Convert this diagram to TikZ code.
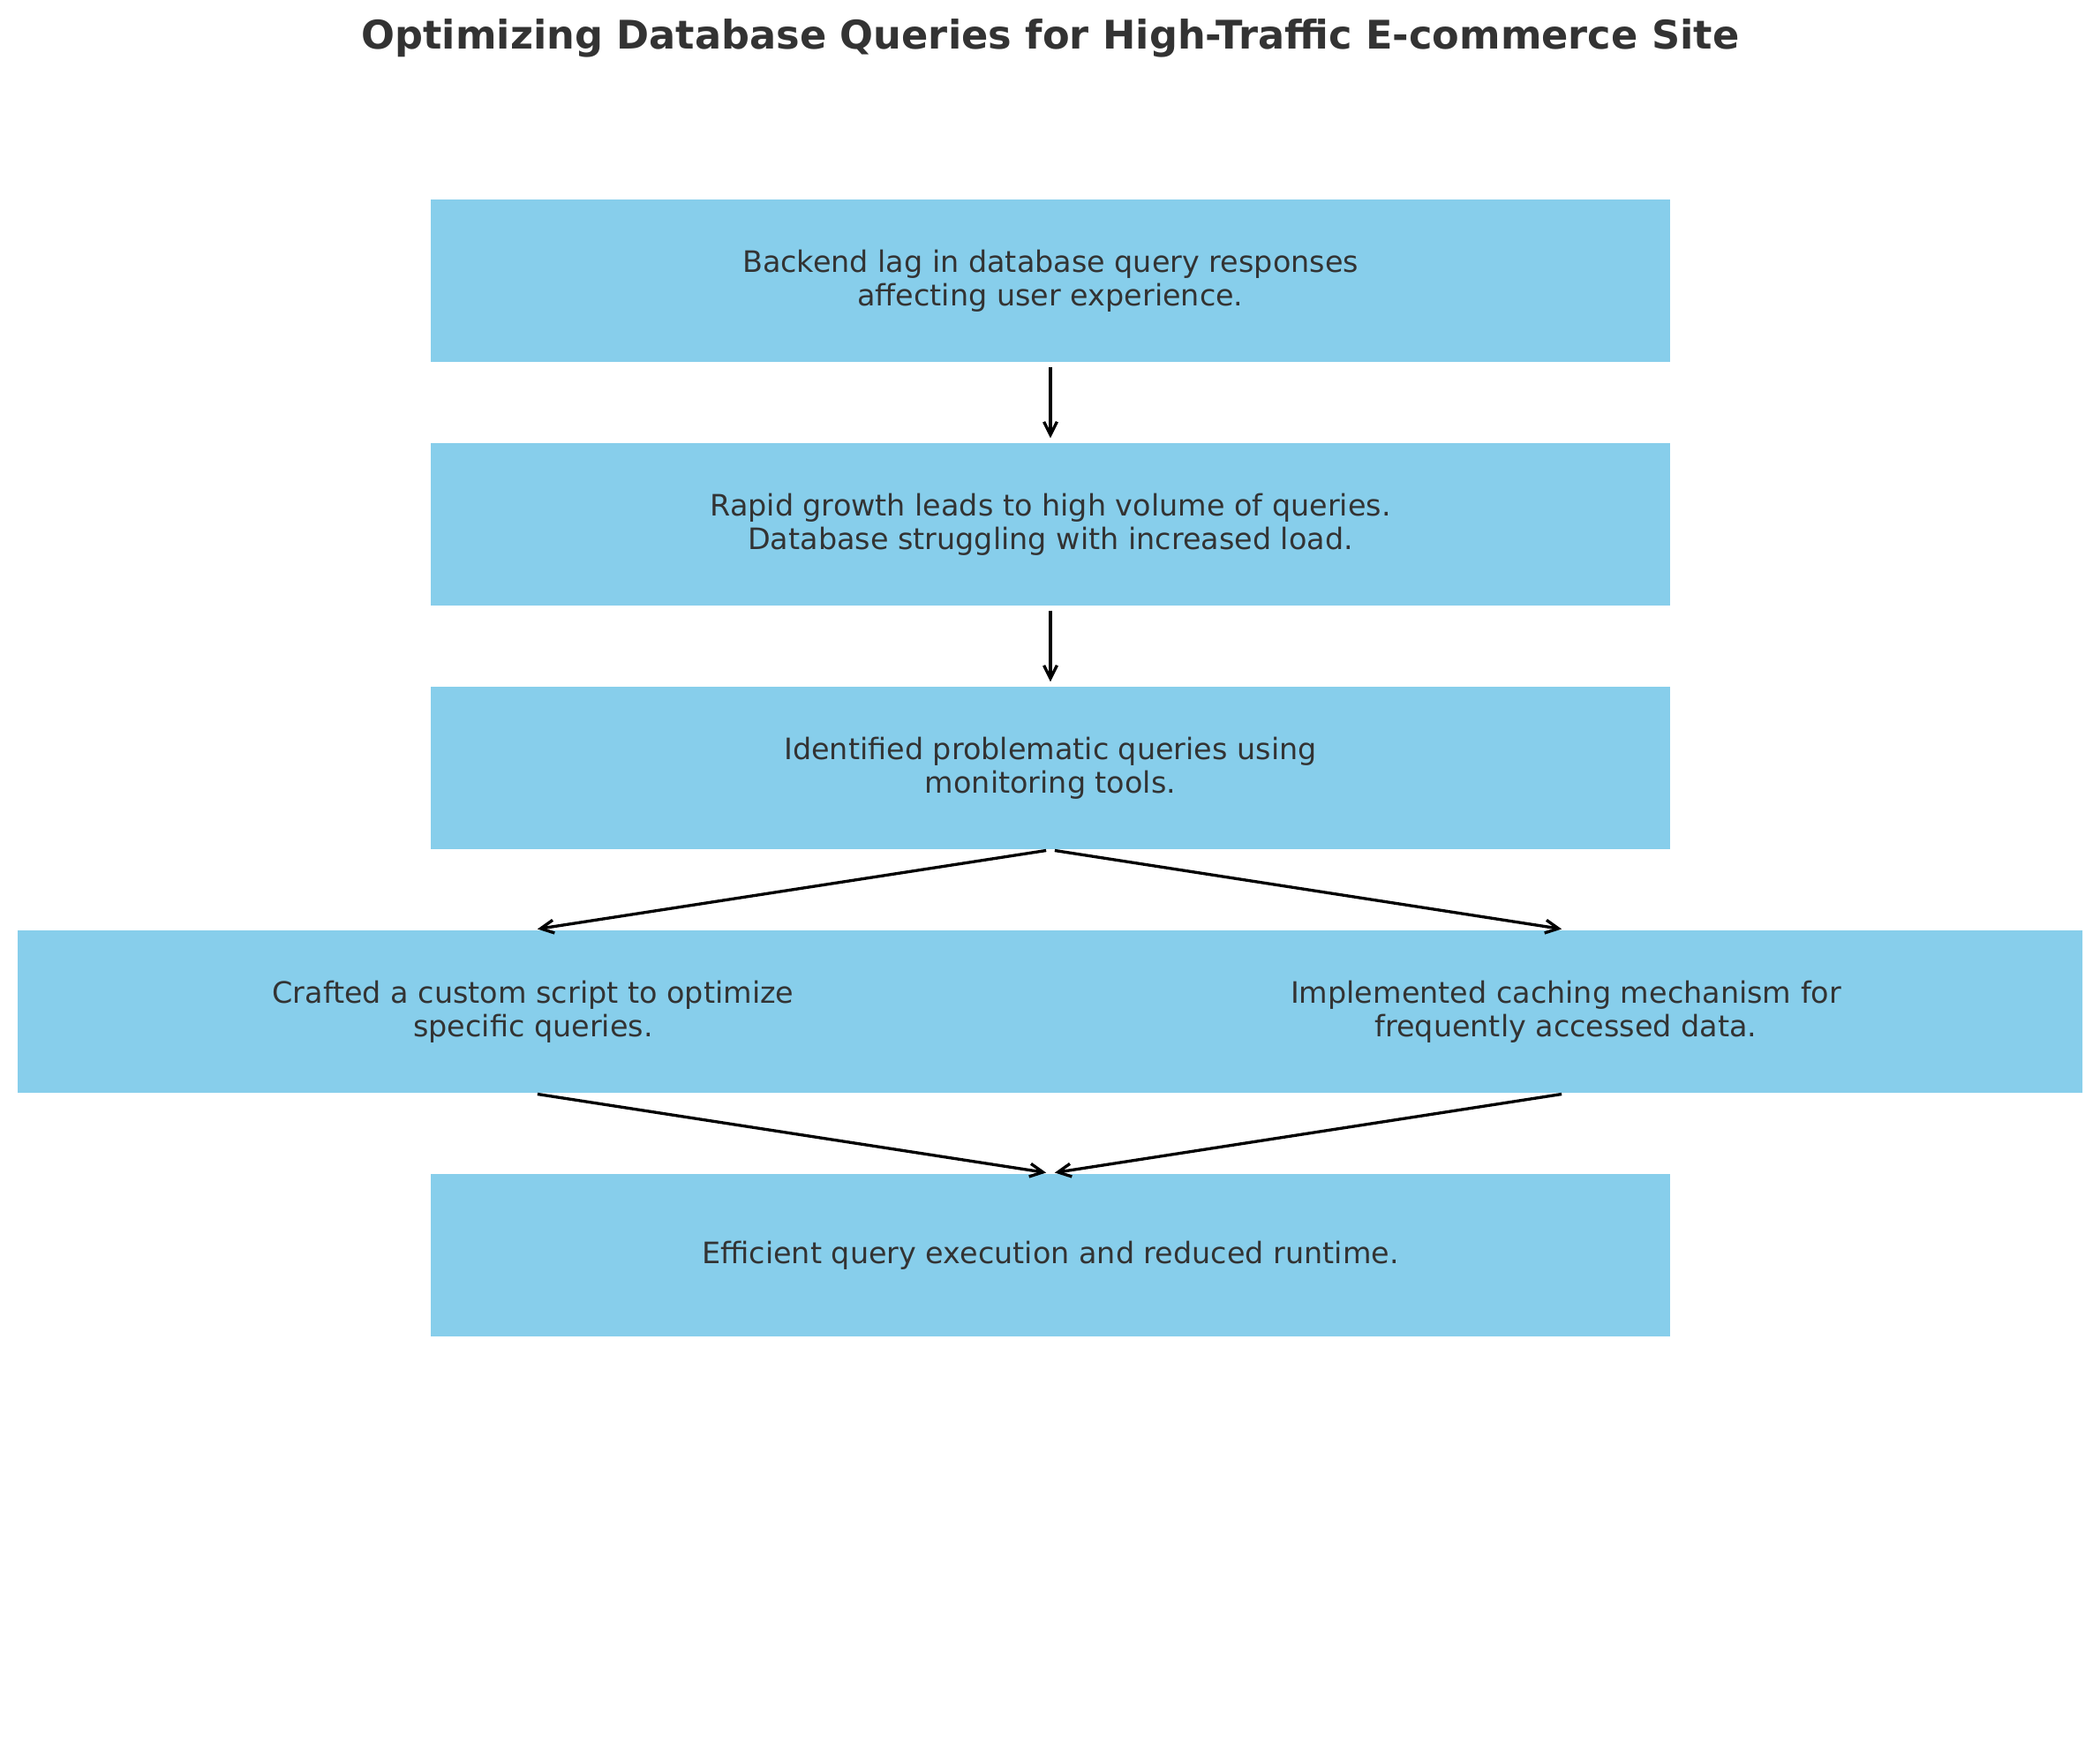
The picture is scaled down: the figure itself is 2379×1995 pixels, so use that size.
\documentclass[tikz,border=0pt]{standalone}
\usepackage{fontspec}
\setmainfont{DejaVu Sans}
\usetikzlibrary{arrows.meta}
\definecolor{boxblue}{HTML}{87CEEB}
\definecolor{txtgray}{HTML}{333333}
\tikzset{
  bodytext/.style={align=center, text=txtgray, font=\fontsize{9.5pt}{10.8pt}\selectfont},
  stepbox/.style={rectangle, fill=boxblue, draw=none, inner sep=0pt,
    minimum width=14.04cm, minimum height=1.84cm, bodytext},
  flow/.style={draw=black, line width=0.95pt,
    -{Straight Barb[length=4.2pt, width=4.2pt, line width=0.95pt]},
    shorten <=1.4pt, shorten >=1.4pt}
}
\begin{document}
\begin{tikzpicture}[x=0.01cm, y=-0.01cm]
\useasboundingbox (0,0) rectangle (2379,1995);
\node[font=\fontsize{12.7pt}{15pt}\selectfont\bfseries, text=txtgray] (title) at (1190,43) {Optimizing Database Queries for High-Traffic E-commerce Site};
\node[stepbox] (b1) at (1190,318) {Backend lag in database query responses\\affecting user experience.};
\node[stepbox] (b2) at (1190,594) {Rapid growth leads to high volume of queries.\\Database struggling with increased load.};
\node[stepbox] (b3) at (1190,870) {Identified problematic queries using\\monitoring tools.};
\begin{scope}
\clip (20,0) rectangle (2359,1995);
\node[stepbox] (b4l) at (604,1146) {};
\node[stepbox] (b4r) at (1774,1146) {};
\end{scope}
\node[bodytext] (t4l) at (604,1146) {Crafted a custom script to optimize\\specific queries.};
\node[bodytext] (t4r) at (1774,1146) {Implemented caching mechanism for\\frequently accessed data.};
\node[stepbox] (b5) at (1190,1422) {Efficient query execution and reduced runtime.};
\draw[flow] (b1.south) -- (b2.north);
\draw[flow] (b2.south) -- (b3.north);
\draw[flow] (b3.south) -- (b4l.north);
\draw[flow] (b3.south) -- (b4r.north);
\draw[flow] (b4l.south) -- (b5.north);
\draw[flow] (b4r.south) -- (b5.north);
\end{tikzpicture}
\end{document}
